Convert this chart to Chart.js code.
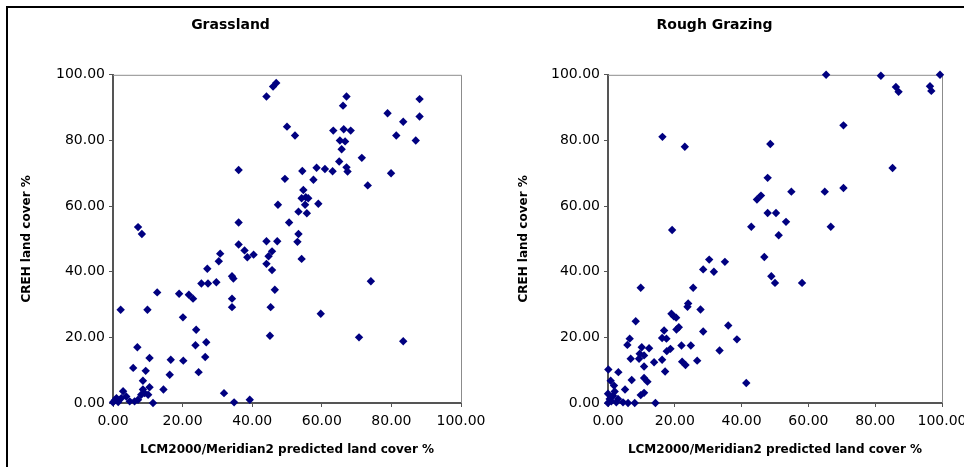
<!DOCTYPE html>
<html>
<head>
<meta charset="utf-8">
<script src="https://cdn.jsdelivr.net/npm/chart.js@4"></script>
<style>
  html, body { margin: 0; padding: 0; background: #fff; overflow: hidden; }
  body { width: 964px; height: 467px; position: relative; }
  #frame { position: absolute; left: 6px; top: 6px; width: 1000px; height: 500px;
           border-top: 2px solid #000; border-left: 2px solid #000; }
  canvas { position: absolute; top: 0; }
</style>
</head>
<body>
<div id="frame"></div>
<canvas id="grassChart" width="494" height="467" style="left:0"></canvas>
<canvas id="roughChart" width="500" height="467" style="left:487px"></canvas>
<script>
// values (x = LCM2000/Meridian2, y = CREH)
const grassX = [44.1, 46.0, 46.9, 67.1, 66.1, 88.1, 88.1, 78.9, 83.4, 81.4, 87.0, 79.9, 50.0, 52.3, 63.3, 66.3, 68.3, 65.2, 66.7, 65.7,
  65.0, 67.1, 67.4, 71.5, 73.2, 63.1, 60.9, 58.5, 54.4, 57.6, 49.4, 36.1, 54.7, 54.2, 55.4, 56.1, 55.2, 59.0, 53.3, 55.7,
  47.4, 50.6, 36.1, 53.3, 7.2, 8.3, 44.1, 47.2, 53.0, 36.1, 37.8, 38.6, 40.4, 44.7, 45.7, 54.2, 44.1, 45.7, 30.8, 30.4,
  27.1, 25.4, 27.3, 29.7, 34.2, 34.6, 34.2, 34.2, 46.5, 45.3, 45.1, 74.1, 59.7, 70.7, 83.4, 19.0, 12.7, 21.8, 23.0, 2.2,
  9.9, 20.1, 23.9, 23.7, 26.8, 26.5, 24.6, 20.2, 16.6, 16.3, 7.0, 5.8, 10.5, 9.4, 8.6, 14.5, 31.9, 34.8, 39.3, 0,
  1.0, 2.9, 2.4, 3.8, 4.8, 6.2, 7.2, 8.1, 8.6, 9.1, 10.1, 10.5, 11.5, 0.5, 1.5];
const grassY = [93.4, 96.4, 97.5, 93.4, 90.6, 92.6, 87.3, 88.3, 85.7, 81.5, 80.0, 70.0, 84.2, 81.5, 83.0, 83.4, 83.0, 80.0, 79.7, 77.3,
  73.6, 71.8, 70.5, 74.7, 66.3, 70.6, 71.3, 71.7, 70.7, 68.0, 68.3, 71.0, 64.9, 62.4, 62.7, 62.4, 60.4, 60.7, 58.3, 57.8,
  60.4, 55.0, 55.0, 51.5, 53.6, 51.5, 49.3, 49.3, 49.1, 48.3, 46.5, 44.4, 45.2, 44.7, 46.2, 43.9, 42.4, 40.5, 45.5, 43.2,
  40.9, 36.4, 36.4, 36.8, 38.6, 37.9, 31.8, 29.2, 34.5, 29.2, 20.5, 37.1, 27.2, 20.0, 18.8, 33.3, 33.7, 33.0, 31.8, 28.4,
  28.4, 26.1, 22.3, 17.6, 18.5, 14.0, 9.4, 12.9, 13.2, 8.6, 17.0, 10.7, 13.7, 9.8, 6.8, 4.1, 3.0, 0.2, 1.0, 0.2,
  1.5, 3.6, 1.5, 2.0, 0.5, 0.5, 1.0, 2.5, 4.1, 3.0, 2.5, 4.8, 0, 0.8, 0.3];

const roughX = [65.3, 81.7, 99.4, 86.2, 87.0, 96.4, 96.8, 70.5, 85.2, 70.5, 64.9, 54.9, 66.7, 16.3, 23.0, 48.6, 47.8, 44.6, 45.8, 47.8,
  50.3, 53.3, 42.9, 51.1, 19.2, 46.8, 48.9, 50.0, 58.1, 30.3, 35.0, 28.5, 31.7, 9.8, 25.5, 24.0, 23.8, 27.7, 19.0, 19.7,
  20.4, 21.2, 20.5, 28.5, 36.0, 38.6, 33.4, 41.4, 16.8, 16.2, 17.5, 22.0, 24.8, 18.7, 17.6, 16.2, 22.2, 23.2, 26.7, 17.1,
  12.3, 13.8, 10.1, 9.5, 10.8, 9.3, 10.8, 8.3, 6.5, 5.8, 6.8, 7.1, 10.8, 11.8, 9.8, 10.8, 3.1, 0.1, 0.8, 1.8,
  5.1, 0, 1.5, 3.0, 0.5, 2.5, 4.5, 6.0, 8.0, 0, 14.2, 1.0, 2.0];
const roughY = [100, 99.7, 100, 96.3, 94.8, 96.5, 95.1, 84.6, 71.6, 65.5, 64.4, 64.4, 53.7, 81.1, 78.1, 78.9, 68.6, 62.0, 63.2, 57.9,
  57.9, 55.2, 53.7, 51.1, 52.7, 44.5, 38.6, 36.6, 36.6, 43.7, 43.0, 40.7, 40.0, 35.1, 35.1, 30.3, 29.3, 28.5, 27.2, 26.4,
  26.0, 23.1, 22.4, 21.8, 23.6, 19.4, 16.0, 6.1, 22.1, 19.8, 19.6, 17.5, 17.5, 16.5, 15.8, 13.2, 12.6, 11.6, 12.9, 9.6,
  16.7, 12.4, 17.0, 15.0, 14.5, 13.5, 11.1, 24.9, 19.6, 17.7, 13.5, 7.0, 7.6, 6.5, 2.4, 3.1, 9.4, 10.2, 6.8, 5.3,
  4.1, 2.8, 2.2, 1.2, 1.2, 0.2, 0.2, 0, 0, 0, 0, 0.5, 3.5];

const axisMin = 0;
const axisMax = 100;
const axisStep = 20;
const xTitle = 'LCM2000/Meridian2 predicted land cover %';
const yTitle = 'CREH land cover %';

const markerColor = '#000080';
const axisColor = '#555555';

Chart.defaults.font.family = "'DejaVu Sans', sans-serif";
Chart.defaults.color = '#000';

// grey top/right edge of the plot area, like the spreadsheet original
const plotFrame = {
  id: 'plotFrame',
  beforeDatasetsDraw: (chart) => {
    const { ctx, chartArea: a } = chart;
    ctx.save();
    ctx.strokeStyle = '#8c8c8c';
    ctx.lineWidth = 1;
    ctx.beginPath();
    ctx.moveTo(a.left, a.top + 0.5);
    ctx.lineTo(a.right + 0.5, a.top + 0.5);
    ctx.lineTo(a.right + 0.5, a.bottom);
    ctx.stroke();
    ctx.restore();
  }
};

const makeChart = (canvasId, title, xs, ys, yWidth, yTitlePad, padRight) => {
  const ctx = document.getElementById(canvasId);
  const points = xs.map((x, i) => ({ x, y: ys[i] }));

  const axis = (text, isX) => ({
    type: 'linear',
    min: axisMin,
    max: axisMax,
    afterFit: (scale) => {
      if (isX) scale.height = 64;
      else scale.width = yWidth;
    },
    border: { display: true, color: axisColor, width: 2 },
    grid: { drawOnChartArea: false, drawTicks: true, tickLength: 4, color: axisColor },
    ticks: {
      stepSize: axisStep,
      padding: isX ? 6 : 4,
      font: { size: 14 },
      color: '#000',
      callback: v => v.toFixed(2)
    },
    title: {
      display: true,
      text,
      color: '#000',
      font: { size: 12, weight: 'bold' },
      padding: isX ? { top: 0, bottom: 10 } : { top: yTitlePad, bottom: 0 }
    }
  });

  return new Chart(ctx, {
    type: 'scatter',
    data: {
      datasets: [{
        data: points,
        pointStyle: 'rectRot',
        radius: 4.2,
        borderWidth: 0,
        backgroundColor: markerColor,
        borderColor: markerColor,
        clip: false
      }]
    },
    options: {
      responsive: false,
      animation: false,
      layout: { padding: { left: 0, right: padRight, top: 0, bottom: 0 } },
      plugins: {
        legend: { display: false },
        tooltip: { enabled: false },
        title: {
          display: true,
          text: title,
          color: '#000',
          font: { size: 14, weight: 'bold' },
          padding: { top: 17, bottom: 41 }
        }
      },
      scales: {
        x: axis(xTitle, true),
        y: axis(yTitle, false)
      }
    },
    plugins: [plotFrame]
  });
};

makeChart('grassChart', 'Grassland', grassX, grassY, 113, 20, 33);
makeChart('roughChart', 'Rough Grazing', roughX, roughY, 121, 30, 45);
</script>
</body>
</html>
